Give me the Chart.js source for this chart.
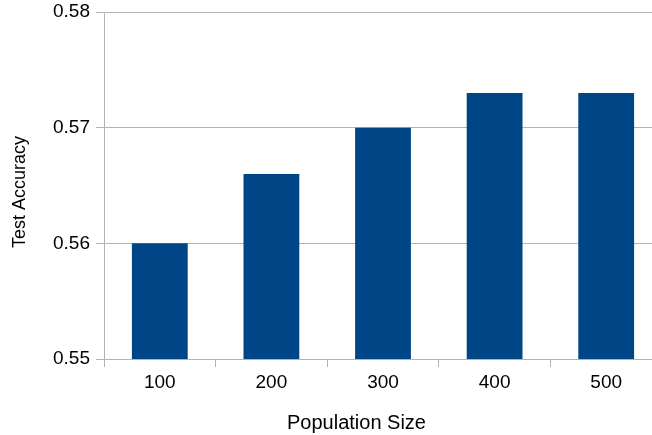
<!DOCTYPE html>
<html>
<head>
<meta charset="utf-8">
<script src="https://cdn.jsdelivr.net/npm/chart.js@4/dist/chart.umd.min.js"></script>
<style>
html,body{margin:0;padding:0;background:#fff;overflow:hidden;width:652px;height:435px;}
#wrap{width:662px;height:435px;position:relative;}
</style>
</head>
<body>
<div id="wrap"><canvas id="c" width="662" height="435"></canvas></div>
<script>
const categories = ['100', '200', '300', '400', '500'];
const accuracy = [0.560, 0.566, 0.570, 0.573, 0.573];
const yTicks = [0.55, 0.56, 0.57, 0.58];
const xTitle = 'Population Size';
const yTitle = 'Test Accuracy';

const FONT = '"Liberation Sans", Arial, sans-serif';
const GRID = '#b3b3b3';

const titlePlugin = {
  id: 'axisTitles',
  afterDraw(chart) {
    const ctx = chart.ctx;
    ctx.save();
    ctx.fillStyle = '#000';
    ctx.textAlign = 'center';
    ctx.textBaseline = 'middle';
    ctx.font = '20px ' + FONT;
    ctx.fillText(xTitle, 356.5, 423);
    ctx.translate(20, 192);
    ctx.rotate(-Math.PI / 2);
    ctx.font = '18px ' + FONT;
    ctx.fillText(yTitle, 0, 0);
    ctx.restore();
  }
};

new Chart(document.getElementById('c'), {
  type: 'bar',
  data: {
    labels: categories,
    datasets: [{
      data: accuracy,
      backgroundColor: '#004586',
      borderWidth: 0,
      barPercentage: 0.5,
      categoryPercentage: 1.0
    }]
  },
  options: {
    responsive: false,
    animation: false,
    layout: { padding: { top: 12, left: 0, right: 0, bottom: 0 } },
    plugins: { legend: { display: false }, tooltip: { enabled: false } },
    scales: {
      x: {
        grid: { offset: true, drawOnChartArea: false, drawTicks: true, tickLength: 8, color: GRID },
        border: { display: true, color: GRID },
        ticks: { color: '#000', font: { family: FONT, size: 19 }, padding: 4 },
        afterFit(s) { s.height = 76; s.paddingLeft = 0; s.paddingRight = 0; }
      },
      y: {
        min: yTicks[0],
        max: yTicks[yTicks.length - 1],
        afterBuildTicks(s) { s.ticks = yTicks.map(v => ({ value: v })); },
        grid: { color: GRID, tickLength: 8 },
        border: { display: true, color: GRID },
        ticks: { color: '#000', font: { family: FONT, size: 19 }, padding: 6,
                 callback: v => Number(v).toFixed(2) },
        afterFit(s) { s.width = 104; s.paddingTop = 0; s.paddingBottom = 0; }
      }
    }
  },
  plugins: [titlePlugin]
});
</script>
</body>
</html>
